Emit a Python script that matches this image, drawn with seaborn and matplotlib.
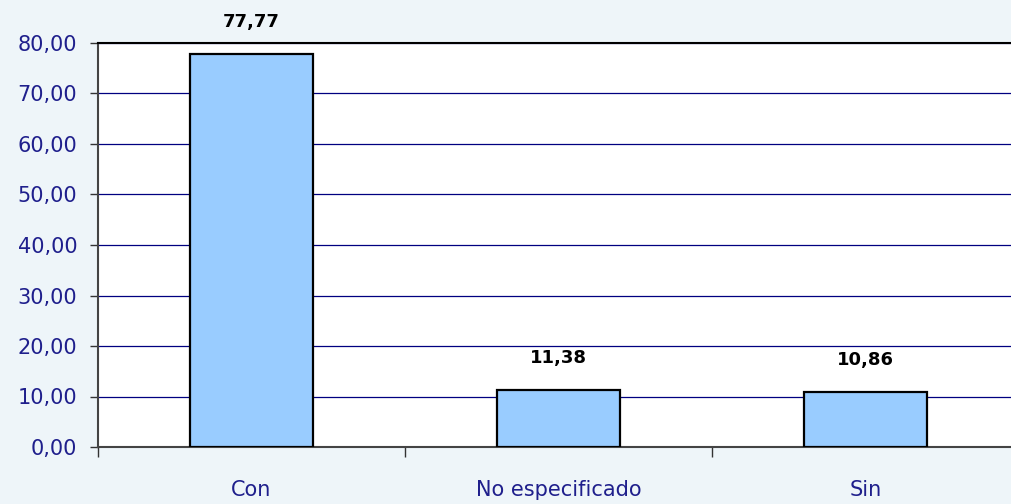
import matplotlib
matplotlib.use("Agg")
import matplotlib.pyplot as plt
import seaborn as sns
import pandas as pd
from matplotlib.ticker import FixedLocator

categories = ["Con", "No especificado", "Sin"]
values = [77.77, 11.38, 10.86]
value_labels = ["77,77", "11,38", "10,86"]
y_ticks = [0, 10, 20, 30, 40, 50, 60, 70, 80]
y_tick_labels = ["0,00", "10,00", "20,00", "30,00", "40,00", "50,00", "60,00", "70,00", "80,00"]

df = pd.DataFrame({"cat": categories, "val": values})

sns.set_style("white")
plt.rcParams['font.family'] = ['DejaVu Sans']

bg = "#EEF5F9"
navy = "#1F1F8C"
fig = plt.figure(figsize=(10.12, 5.04), dpi=100, facecolor=bg)
ax = fig.add_axes([98/1012, 57/504, 921/1012, 404/504])
ax.set_facecolor("white")

sns.barplot(data=df, x="cat", y="val", color="#99CCFF", saturation=1,
            width=0.4, edgecolor="black", linewidth=1.6, ax=ax, zorder=3)

ax.set_xlim(-0.5, 2.5)
ax.set_ylim(0, 80)
ax.set_yticks(y_ticks)
ax.set_yticklabels(y_tick_labels)
ax.yaxis.grid(True, color="#000080", linewidth=0.9, zorder=0)
ax.set_axisbelow(True)
ax.set_xlabel("")
ax.set_ylabel("")

ax.xaxis.set_minor_locator(FixedLocator([-0.5, 0.5, 1.5, 2.5]))
ax.tick_params(axis="x", which="major", length=0, pad=24, labelsize=15, labelcolor=navy)
ax.tick_params(axis="x", which="minor", bottom=True, length=7, width=1, color="#333333",
               direction="out")
ax.tick_params(axis="y", which="major", length=6, width=1, color="#333333", pad=9,
               labelsize=15, labelcolor=navy, direction="out", left=True)

for s in ["left", "bottom"]:
    ax.spines[s].set_color("#444444")
    ax.spines[s].set_linewidth(1.5)
ax.spines["top"].set_color("black")
ax.spines["top"].set_linewidth(1.5)
ax.spines["right"].set_visible(False)

for i, (v, lab) in enumerate(zip(values, value_labels)):
    ax.annotate(lab, (i, v), xytext=(0, 23), textcoords="offset points",
                ha="center", va="center", fontsize=13, fontweight="bold", color="black",
                annotation_clip=False)

fig.savefig("out.png", dpi=100, facecolor=bg)
